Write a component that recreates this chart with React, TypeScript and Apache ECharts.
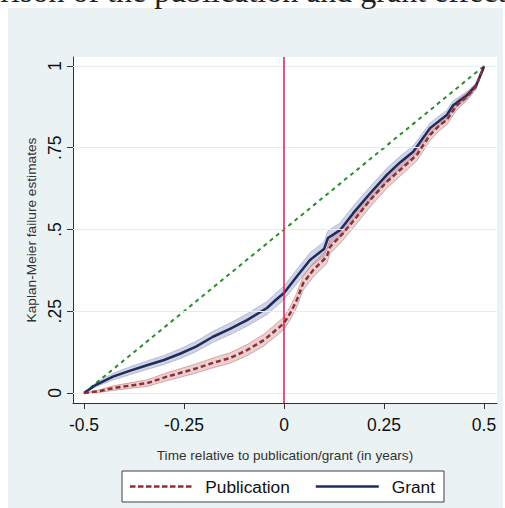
import React, { useEffect, useRef } from "react";
import * as echarts from "echarts";

// Kaplan-Meier failure estimates, time in years relative to the event
const grantTime = [-0.5, -0.47, -0.4275, -0.39, -0.3425, -0.3, -0.26, -0.22, -0.1775, -0.135, -0.0925, -0.0425, -0.02, 0, 0.032, 0.065, 0.1, 0.11, 0.14, 0.173, 0.215, 0.257, 0.29, 0.323, 0.365, 0.407, 0.423, 0.457, 0.48, 0.4975, 0.5];
const grantEst = [0, 0.025, 0.05, 0.066, 0.085, 0.101, 0.12, 0.142, 0.172, 0.196, 0.223, 0.26, 0.285, 0.306, 0.356, 0.407, 0.44, 0.474, 0.498, 0.55, 0.61, 0.667, 0.705, 0.738, 0.81, 0.85, 0.88, 0.91, 0.94, 0.99, 1];
const grantLow = [0, 0.019, 0.04, 0.054, 0.072, 0.087, 0.105, 0.126, 0.155, 0.178, 0.204, 0.24, 0.264, 0.285, 0.334, 0.385, 0.418, 0.452, 0.476, 0.528, 0.589, 0.647, 0.686, 0.72, 0.794, 0.835, 0.866, 0.899, 0.932, 0.987, 1];
const grantHigh = [0, 0.031, 0.06, 0.078, 0.098, 0.115, 0.135, 0.158, 0.189, 0.214, 0.242, 0.28, 0.306, 0.327, 0.378, 0.429, 0.462, 0.496, 0.52, 0.572, 0.631, 0.687, 0.724, 0.756, 0.826, 0.865, 0.894, 0.921, 0.948, 0.993, 1];

const pubTime = [-0.5, -0.46, -0.4275, -0.3425, -0.2925, -0.26, -0.22, -0.1775, -0.135, -0.0925, -0.05, -0.01, 0, 0.016, 0.032, 0.048, 0.073, 0.107, 0.115, 0.148, 0.182, 0.215, 0.257, 0.29, 0.332, 0.365, 0.39, 0.407, 0.432, 0.457, 0.48, 0.5];
const pubEst = [0, 0.006, 0.015, 0.03, 0.05, 0.061, 0.075, 0.092, 0.107, 0.131, 0.162, 0.203, 0.214, 0.245, 0.284, 0.336, 0.376, 0.417, 0.447, 0.489, 0.539, 0.59, 0.646, 0.682, 0.728, 0.789, 0.82, 0.835, 0.88, 0.906, 0.937, 1];
const pubLow = [0, 0.002, 0.008, 0.02, 0.038, 0.048, 0.061, 0.077, 0.091, 0.114, 0.144, 0.184, 0.195, 0.225, 0.263, 0.315, 0.355, 0.396, 0.426, 0.468, 0.518, 0.569, 0.626, 0.663, 0.71, 0.772, 0.804, 0.82, 0.866, 0.894, 0.929, 1];
const pubHigh = [0, 0.01, 0.022, 0.04, 0.062, 0.074, 0.089, 0.107, 0.123, 0.148, 0.18, 0.222, 0.233, 0.265, 0.305, 0.357, 0.397, 0.438, 0.468, 0.51, 0.56, 0.611, 0.666, 0.701, 0.746, 0.806, 0.836, 0.85, 0.894, 0.918, 0.945, 1];

// 45-degree reference line
const diagTime = [-0.5, 0.5];
const diagEst = [0, 1];

const xTicks = [-0.5, -0.25, 0, 0.25, 0.5];
const xTickLabels = ["-0.5", "-0.25", "0", "0.25", "0.5"];
const yTicks = [0, 0.25, 0.5, 0.75, 1];
const yTickLabels = ["0", ".25", ".5", ".75", "1"];

const SANS = "'Liberation Sans', Arial, sans-serif";

// legend keys: a dashed bar and a solid bar, 63 x 2.5 units
const DASH_KEY = "path://M0,0h5.5v2.5h-5.5z M8,0h5.5v2.5h-5.5z M16,0h5.5v2.5h-5.5z M24,0h5.5v2.5h-5.5z M32,0h5.5v2.5h-5.5z M40,0h5.5v2.5h-5.5z M48,0h5.5v2.5h-5.5z M56,0h5.5v2.5h-5.5z";
const SOLID_KEY = "path://M0,0h63v2.5h-63z";

const pairs = (xs: number[], ys: number[]) => xs.map((x, i) => [x, ys[i]]);

function bandSeries(xs: number[], lo: number[], hi: number[], fill: string, stroke: string) {
  return {
    type: "custom",
    silent: true,
    clip: true,
    z: 1,
    data: [[0, 0]],
    renderItem: (_params: any, api: any) => {
      const upper = xs.map((x, i) => api.coord([x, hi[i]]));
      const lower = xs.map((x, i) => api.coord([x, lo[i]])).reverse();
      return {
        type: "polygon",
        shape: { points: upper.concat(lower) },
        style: { fill, stroke, lineWidth: 1 },
      };
    },
  };
}

export default function App() {
  const ref = useRef<HTMLDivElement>(null);

  useEffect(() => {
    if (!ref.current) return;
    const chart = echarts.init(ref.current, null, { renderer: "svg" });
    chart.setOption({
      animation: false,
      textStyle: { fontFamily: SANS },
      graphic: [
        {
          type: "text",
          left: -92,
          top: -25,
          style: {
            text: "Comparison of the publication and grant effects",
            font: "32px 'Liberation Serif', 'Times New Roman', serif",
            fill: "#222",
          },
        },
      ],
      grid: {
        left: 73,
        right: 8,
        top: 57,
        bottom: 105,
        show: true,
        backgroundColor: "#ffffff",
        borderWidth: 0,
      },
      xAxis: {
        type: "value",
        min: -0.5275,
        max: 0.5325,
        name: "Time relative to publication/grant (in years)",
        nameLocation: "middle",
        nameGap: 45,
        nameTextStyle: { fontSize: 13.6, color: "#333", fontFamily: SANS },
        axisLine: { show: true, onZero: false, lineStyle: { color: "#333", width: 1 } },
        axisTick: { show: true, length: 6, customValues: xTicks, lineStyle: { color: "#333" } },
        axisLabel: {
          customValues: xTicks,
          fontSize: 17.5,
          color: "#111",
          margin: 13,
          formatter: (v: number) => xTickLabels[xTicks.indexOf(v)] ?? "",
        },
        splitLine: { show: false },
      },
      yAxis: {
        type: "value",
        min: -0.0306,
        max: 1.0275,
        name: "Kaplan-Meier failure estimates",
        nameLocation: "middle",
        nameRotate: 90,
        nameGap: 27,
        nameTextStyle: { fontSize: 13.7, color: "#333", fontFamily: SANS },
        axisLine: { show: true, onZero: false, lineStyle: { color: "#333", width: 1 } },
        axisTick: { show: true, length: 6, customValues: yTicks, lineStyle: { color: "#333" } },
        axisLabel: {
          customValues: yTicks,
          rotate: 90,
          fontSize: 17.5,
          color: "#111",
          margin: 9,
          formatter: (v: number) => yTickLabels[yTicks.indexOf(v)] ?? "",
        },
        splitLine: { show: false },
      },
      legend: {
        left: 122,
        top: 471,
        data: [
          { name: "Publication", icon: DASH_KEY },
          { name: "Grant", icon: SOLID_KEY },
        ],
        backgroundColor: "#ffffff",
        borderColor: "#404040",
        borderWidth: 1,
        borderRadius: 0,
        padding: [7, 9, 7, 8],
        itemGap: 26,
        itemWidth: 63,
        itemHeight: 2.5,
        textStyle: { fontSize: 17.3, color: "#111", fontFamily: SANS, padding: [0, 0, 0, 8] },
      },
      series: [
        // horizontal grid rules at the y ticks
        {
          type: "line",
          data: [],
          silent: true,
          markLine: {
            silent: true,
            symbol: "none",
            label: { show: false },
            lineStyle: { color: "#e4edef", width: 1, type: "solid" },
            data: yTicks.map((y) => ({ yAxis: y })),
          },
          z: 0,
        },
        bandSeries(grantTime, grantLow, grantHigh, "rgba(150,158,196,0.45)", "rgba(140,148,188,0.5)"),
        bandSeries(pubTime, pubLow, pubHigh, "rgba(200,120,122,0.35)", "rgba(190,110,112,0.55)"),
        {
          name: "Diagonal",
          type: "line",
          data: pairs(diagTime, diagEst),
          symbol: "none",
          silent: true,
          z: 3,
          lineStyle: { color: "#2e8b2e", width: 2, type: [4, 4] },
          markLine: {
            silent: true,
            symbol: "none",
            label: { show: false },
            lineStyle: { color: "#e2194f", width: 1.5, type: "solid" },
            data: [{ xAxis: 0 }],
          },
        },
        {
          name: "Grant",
          type: "line",
          data: pairs(grantTime, grantEst),
          symbol: "none",
          z: 4,
          lineStyle: { color: "#1f2b5c", width: 2.5, type: "solid" },
          itemStyle: { color: "#1f2b5c" },
        },
        {
          name: "Publication",
          type: "line",
          data: pairs(pubTime, pubEst),
          symbol: "none",
          z: 5,
          lineStyle: { color: "#8e2f35", width: 2.5, type: [5, 3] },
          itemStyle: { color: "#8e2f35" },
        },
      ],
    });
    return () => chart.dispose();
  }, []);

  return (
    <div style={{ position: "absolute", left: 0, top: 0, width: 505, height: 508, background: "#ffffff" }}>
      <div style={{ position: "absolute", left: 8, top: 8, width: 495, height: 500, background: "#eaf2f3" }} />
      <div ref={ref} style={{ position: "absolute", left: 0, top: 0, width: 505, height: 508 }} />
    </div>
  );
}
